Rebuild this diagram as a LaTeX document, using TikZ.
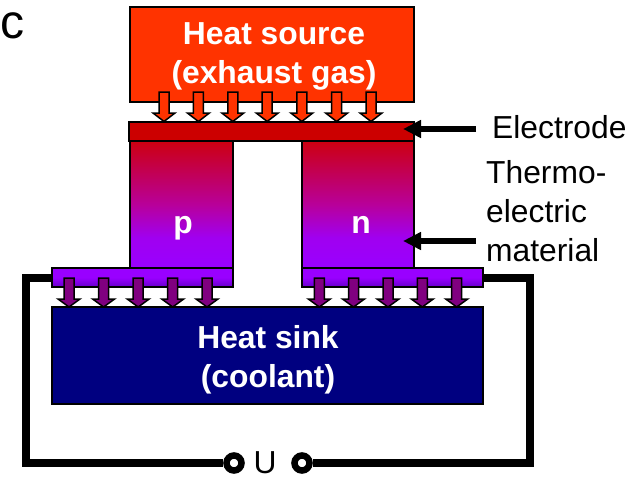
\documentclass[tikz,border=0pt]{standalone}
\usepackage{fontspec}
\setmainfont{Liberation Sans}
\usetikzlibrary{arrows.meta}
\definecolor{hotred}{HTML}{FF3300}
\definecolor{elecred}{HTML}{CC0000}
\definecolor{legtop}{HTML}{CC0010}
\definecolor{legmid}{HTML}{B8009A}
\definecolor{leglow}{HTML}{A000F0}
\definecolor{legpurple}{HTML}{9900FF}
\definecolor{elecdark}{HTML}{6600CC}
\definecolor{sinkblue}{HTML}{000080}
\definecolor{flowpurple}{HTML}{800080}
\pgfdeclareverticalshading{legshade}{100bp}{color(0bp)=(legpurple);color(25bp)=(legpurple);color(37bp)=(leglow);color(50bp)=(legmid);color(75bp)=(legtop);color(100bp)=(legtop)}
\pgfdeclareverticalshading{elecshade}{100bp}{color(0bp)=(elecdark);color(25bp)=(elecdark);color(50bp)=(legpurple);color(75bp)=(legpurple);color(100bp)=(legpurple)}
\tikzset{
    block/.style={draw=black,line width=1.5pt,inner sep=0pt},
    leg/.style={block,shading=legshade},
    elecb/.style={block,shading=elecshade},
    big/.style={font=\fontsize{31.8}{39}\selectfont},
    bigb/.style={font=\fontsize{31.8}{39}\selectfont\bfseries,text=white,align=center},
    wire/.style={line width=8pt,black},
    term/.style={circle,draw=black,line width=6.5pt,fill=white,inner sep=0pt,minimum size=15pt},
    pointer/.style={line width=5.5pt,-{Triangle[length=18pt,width=17pt]}},
    flow/.style={draw=black,line width=1.5pt,miter limit=10}
}
\begin{document}
\begin{tikzpicture}[x=1pt,y=-1pt]
    \useasboundingbox (0,0) rectangle (640,479);
    \node[font=\fontsize{48}{48}\selectfont,anchor=base,inner sep=0pt](label)at(13,38){c};
    % blocks
    \node[block,fill=hotred,minimum width=284,minimum height=95](source)at(272,54.5){};
    \node[bigb](sourcetext)at(274,56){Heat source\\(exhaust gas)};
    \node[block,fill=elecred,minimum width=285,minimum height=19](electop)at(271.5,131.5){};
    \node[leg,minimum width=103,minimum height=127](legp)at(181.5,204.5){};
    \node[leg,minimum width=112,minimum height=127](legn)at(358,204.5){};
    \node[elecb,minimum width=181,minimum height=19](elecbl)at(142.5,277.5){};
    \node[elecb,minimum width=181,minimum height=19](elecbr)at(392.5,277.5){};
    \node[block,fill=sinkblue,minimum width=431,minimum height=97](sink)at(267.5,355.5){};
    \node[bigb](sinktext)at(268,360){Heat sink\\(coolant)};
    \node[bigb,anchor=base,inner sep=0pt](ptext)at(183,233){p};
    \node[bigb,anchor=base,inner sep=0pt](ntext)at(361,233){n};
    % heat flow
    \foreach \x in {164,198.4,232.8,267.2,301.8,336.6,371}
        \draw[flow,fill=hotred](\x-5,92)--(\x+5,92)--(\x+5,113)--(\x+11,113)--(\x,121.5)--(\x-11,113)--(\x-5,113)--cycle;
    \foreach \x in {69,103.6,138.2,172.7,207,319.3,353.5,388,422.3,456.7}
        \draw[flow,fill=flowpurple](\x-5,278)--(\x+5,278)--(\x+5,299)--(\x+11,299)--(\x,307)--(\x-11,299)--(\x-5,299)--cycle;
    % circuit
    \node[term](terml)at(234,463){};
    \node[term](termr)at(302,463){};
    \node[big,inner sep=0pt](volt)at(265,463){U};
    \coordinate(cornerl)at(26,463);
    \coordinate(cornerr)at(530,463);
    \draw[wire](elecbl.west)-|(cornerl)--(terml.west);
    \draw[wire](elecbr.east)-|(cornerr)--(termr.east);
    % labels
    \node[big,anchor=west,inner sep=0pt](electrode)at(492,127){Electrode};
    \node[big,anchor=west,inner sep=0pt,align=left](thermo)at(486,211){Thermo-\\electric\\material};
    \coordinate(tailelec)at(476,129);
    \coordinate(tipelec)at(403,129);
    \coordinate(tailmat)at(476,241);
    \coordinate(tipmat)at(403,241);
    \draw[pointer](tailelec)--(tipelec);
    \draw[pointer](tailmat)--(tipmat);
\end{tikzpicture}
\end{document}
